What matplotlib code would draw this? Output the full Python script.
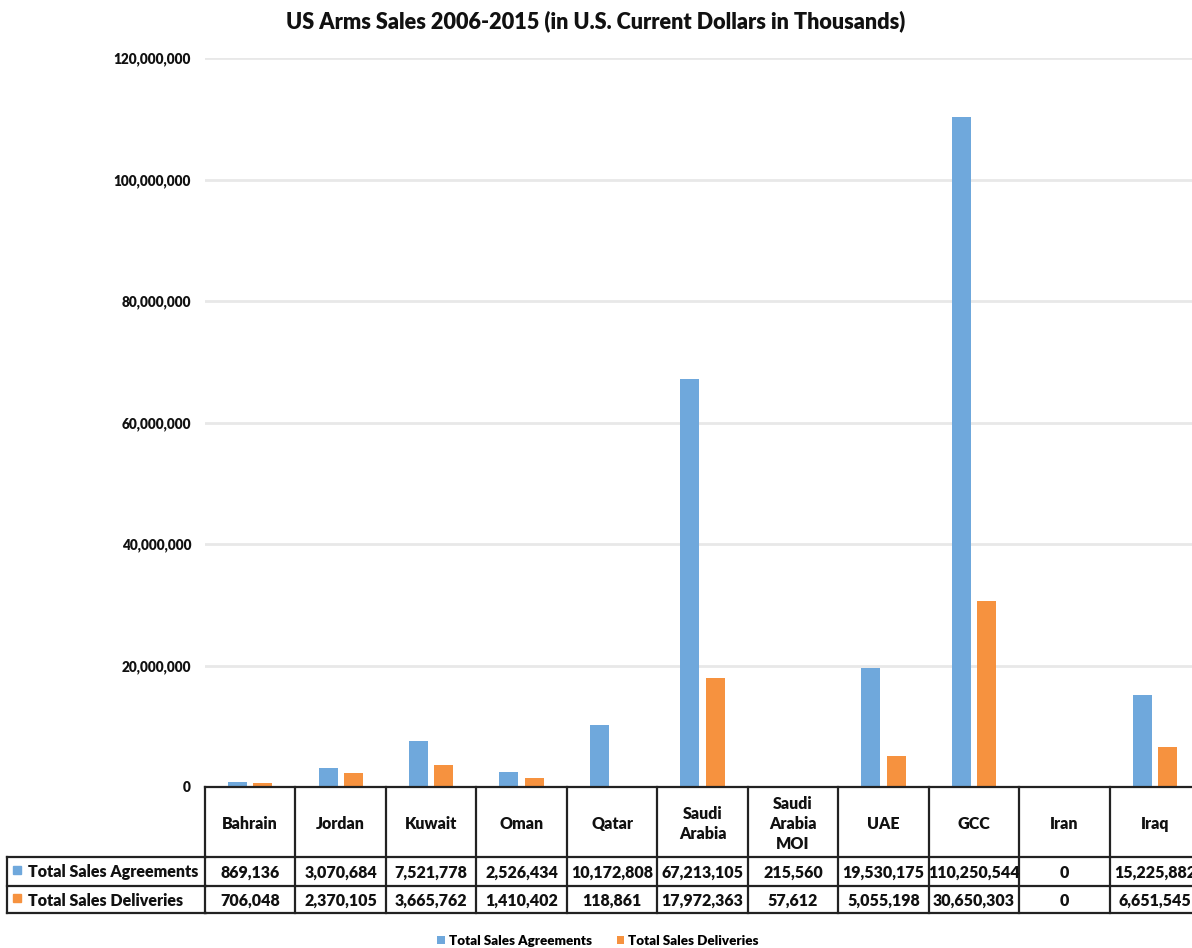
import matplotlib
matplotlib.use('Agg')
import matplotlib.pyplot as plt
from matplotlib.transforms import blended_transform_factory
from matplotlib.ticker import FuncFormatter
from matplotlib.patches import Rectangle
import numpy as np

categories = ["Bahrain", "Jordan", "Kuwait", "Oman", "Qatar", "Saudi\nArabia",
              "Saudi\nArabia\nMOI", "UAE", "GCC", "Iran", "Iraq"]
agreements = [869136, 3070684, 7521778, 2526434, 10172808, 67213105, 215560,
              19530175, 110250544, 0, 15225882]
deliveries = [706048, 2370105, 3665762, 1410402, 118861, 17972363, 57612,
              5055198, 30650303, 0, 6651545]
series_names = ["Total Sales Agreements", "Total Sales Deliveries"]
yticks = [0, 20000000, 40000000, 60000000, 80000000, 100000000, 120000000]
title = "US Arms Sales 2006-2015 (in U.S. Current Dollars in Thousands)"

BLUE = '#6fa8dc'
ORANGE = '#f6923f'
LINE = '#222222'
TXT = '#111111'
WT = 'heavy'

plt.rcParams['font.family'] = ['Lato', 'DejaVu Sans']
plt.rcParams['font.weight'] = 'bold'

W, H = 1192, 948
fig = plt.figure(figsize=(W / 100, H / 100), dpi=100)

# main plot axes (extends slightly past right edge as in reference)
ax = fig.add_axes([205 / W, (H - 787) / H, 995 / W, (787 - 58) / H])
x = np.arange(len(categories))
bw = 0.21
b1 = ax.bar(x - 0.14, agreements, bw, color=BLUE, label=series_names[0], zorder=3)
b2 = ax.bar(x + 0.14, deliveries, bw, color=ORANGE, label=series_names[1], zorder=3)
ax.set_xlim(-0.5, len(categories) - 0.5)
ax.set_ylim(0, 120000000)
ax.set_yticks(yticks)
ax.yaxis.set_major_formatter(FuncFormatter(lambda v, p: f"{int(v):,}"))
ax.tick_params(axis='y', length=0, pad=10, labelsize=9.8, labelcolor=TXT)
ax.set_xticks([])
for s in ax.spines.values():
    s.set_visible(False)
ax.grid(axis='y', color='#e8e8e8', lw=2)
ax.set_axisbelow(True)
for lab in ax.get_yticklabels():
    lab.set_fontweight(WT)

fig.text(596 / W, 1 - 21 / H, title, ha='center', va='center',
         fontsize=15.6, fontweight=WT, color=TXT)

# data table overlay
tab = fig.add_axes([0, 0, 1, 1], facecolor='none')
tab.set_xlim(0, W)
tab.set_ylim(H, 0)
tab.axis('off')
trans = blended_transform_factory(ax.transData, tab.transData)

y_top, y_hdr, y_r1, y_bot = 787, 857, 886, 913
x_left_px = 7
n = len(categories)
edges = np.arange(n + 1) - 0.5
lw = 1.6

for e in edges:
    tab.plot([e, e], [y_top, y_bot], color=LINE, lw=lw, transform=trans, clip_on=False)
tab.plot([edges[0], edges[-1]], [y_top, y_top], color=LINE, lw=lw, transform=trans, clip_on=False)
for yy in (y_hdr, y_r1, y_bot):
    tab.plot([edges[0], edges[-1]], [yy, yy], color=LINE, lw=lw, transform=trans, clip_on=False)
    tab.plot([x_left_px, 206], [yy, yy], color=LINE, lw=lw, clip_on=False)
tab.plot([x_left_px, x_left_px], [y_hdr, y_bot], color=LINE, lw=lw, clip_on=False)

fs = 11.5
for i, c in enumerate(categories):
    tab.text(i, (y_top + y_hdr) / 2 + 2, c, transform=trans, ha='center', va='center',
             fontsize=fs, fontweight=WT, color=TXT, linespacing=1.3)
    tab.text(i, (y_hdr + y_r1) / 2 + 1, f"{agreements[i]:,}", transform=trans,
             ha='center', va='center', fontsize=fs, fontweight=WT, color=TXT)
    tab.text(i, (y_r1 + y_bot) / 2 + 1, f"{deliveries[i]:,}", transform=trans,
             ha='center', va='center', fontsize=fs, fontweight=WT, color=TXT)

for (yy0, yy1), name, col in (((y_hdr, y_r1), series_names[0], BLUE),
                              ((y_r1, y_bot), series_names[1], ORANGE)):
    yc = (yy0 + yy1) / 2
    tab.add_patch(Rectangle((13, yc - 6), 8, 8, color=col))
    tab.text(28, yc + 1, name, ha='left', va='center', fontsize=fs,
             fontweight=WT, color=TXT)

leg = fig.legend(handles=[b1, b2], labels=series_names, loc='center',
                 bbox_to_anchor=(598 / W, 1 - 941 / H), ncol=2, frameon=False,
                 handlelength=0.55, handleheight=0.55, handletextpad=0.3,
                 columnspacing=1.9, prop={'size': 9.6, 'weight': WT})

fig.savefig('out.png', dpi=100)
